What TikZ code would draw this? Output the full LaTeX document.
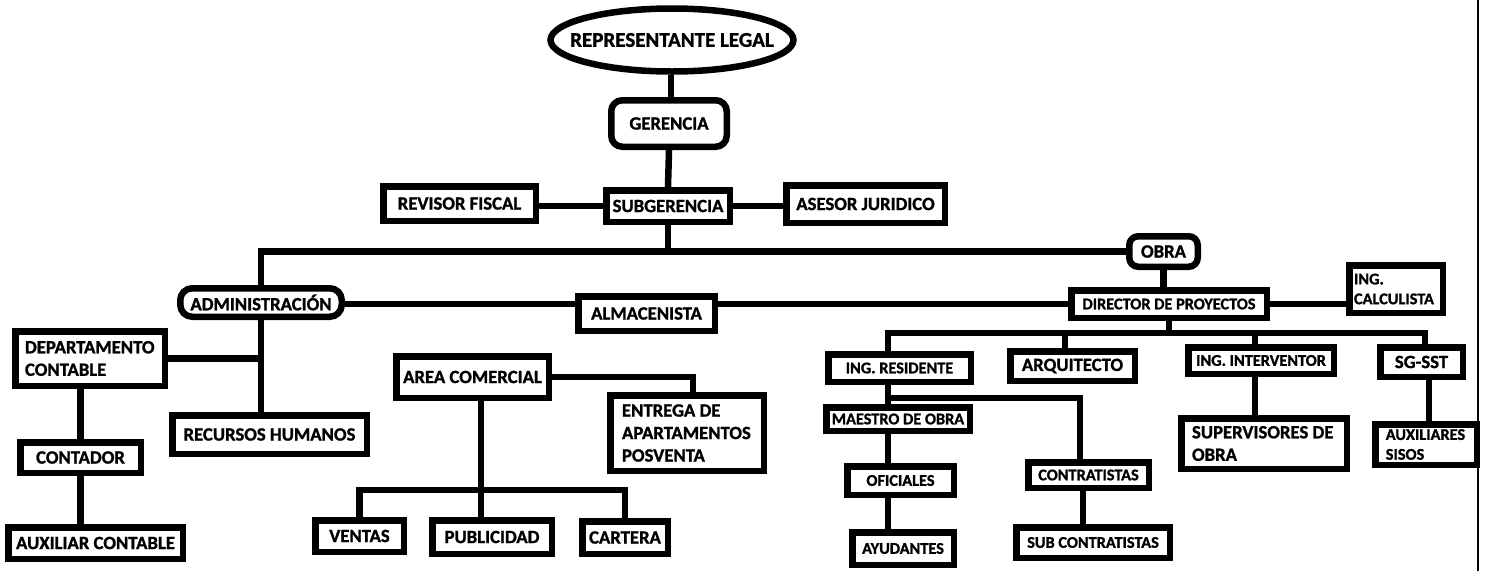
\documentclass[tikz,border=0pt]{standalone}
\usepackage{fontspec}
\setmainfont{Carlito}[BoldFeatures={FakeBold=1.2}]
\usetikzlibrary{shapes.geometric}
\newcommand\fA{\fontsize{18.7}{22.5}\selectfont\bfseries}
\newcommand\fB{\fontsize{16.3}{19.8}\selectfont\bfseries}
\newcommand\fC{\fontsize{21}{25}\selectfont\bfseries}
\begin{document}
\begin{tikzpicture}[x=1pt,y=-1pt,
  lw/.style={line width=6.5pt},
  bx/.style={draw, lw, inner sep=0pt, font=\fA, align=center},
  sbx/.style={bx, font=\fB},
  rbx/.style={bx, rounded corners=11pt},
  ell/.style={draw, ellipse, line width=6.5pt, inner sep=0pt, font=\fC},
  link/.style={lw}]
\useasboundingbox (0,0) rectangle (1486,571);
\fill[white] (0,0) rectangle (1486,571);
% top
\node[ell, minimum width=243pt, minimum height=63pt] (rep) at (672,40) {\makebox[0pt]{REPRESENTANTE LEGAL}};
\node[rbx, minimum width=115.5pt, minimum height=46.5pt] (ger) at (669,123.5) {GERENCIA};
\node[bx, minimum width=123.5pt, minimum height=31.5pt] (sub) at (668,206) {SUBGERENCIA};
\node[bx, minimum width=152.5pt, minimum height=34.5pt] (rev) at (459.5,203.5) {REVISOR FISCAL};
\node[bx, minimum width=158.5pt, minimum height=37.5pt] (ase) at (865.5,204) {ASESOR JURIDICO};
\node[bx, rounded corners=9pt, minimum width=68.5pt, minimum height=30.5pt] (obra) at (1163.5,251.5) {OBRA};
\node[bx, rounded corners=12pt, minimum width=161.5pt, minimum height=28.5pt] (adm) at (261,302.5) {ADMINISTRACIÓN};
\node[bx, minimum width=136.5pt, minimum height=34.5pt] (alm) at (646.5,313.5) {ALMACENISTA};
\node[sbx, minimum width=195.5pt, minimum height=27.5pt] (dir) at (1169,304) {DIRECTOR DE PROYECTOS};
\node[sbx, align=flush left, text width=84pt, inner xsep=4.75pt, minimum height=47.5pt] (calc) at (1396,289) {ING.\\CALCULISTA};
% obra branch
\node[sbx, minimum width=142.5pt, minimum height=27.5pt] (ires) at (899.5,368) {ING. RESIDENTE};
\node[bx, minimum width=124.5pt, minimum height=29.5pt] (arq) at (1072.5,366) {ARQUITECTO};
\node[sbx, minimum width=145.5pt, minimum height=26.5pt] (iint) at (1261,360.5) {ING. INTERVENTOR};
\node[bx, minimum width=82.5pt, minimum height=29.5pt] (sgsst) at (1421.5,362) {SG-SST};
\node[bx, align=flush left, text width=144pt, inner xsep=10.75pt, minimum height=50.5pt] (sup) at (1264,443.5) {SUPERVISORES DE\\OBRA};
\node[sbx, align=flush left, text width=80.5pt, inner xsep=10.5pt, minimum height=40.5pt] (aux) at (1426,444.5) {AUXILIARES\\SISOS};
\node[sbx, minimum width=143.5pt, minimum height=23.5pt] (mae) at (898,419) {MAESTRO DE OBRA};
\node[sbx, minimum width=106.5pt, minimum height=28.5pt] (ofi) at (900.5,480.5) {OFICIALES};
\node[sbx, minimum width=101.5pt, minimum height=32.5pt] (ayu) at (903,548.5) {AYUDANTES};
\node[sbx, minimum width=120.5pt, minimum height=25.5pt] (con) at (1088.5,475) {CONTRATISTAS};
\node[sbx, minimum width=153.5pt, minimum height=30.5pt] (scon) at (1093,542.5) {SUB CONTRATISTAS};
% administration branch
\node[bx, align=flush left, text width=130pt, inner xsep=9.75pt, minimum height=54.5pt] (dep) at (90,358.5) {DEPARTAMENTO\\CONTABLE};
\node[bx, minimum width=194.5pt, minimum height=38.5pt] (rrhh) at (269.5,434.5) {RECURSOS HUMANOS};
\node[bx, minimum width=120.5pt, minimum height=30.5pt] (cont) at (80.5,457.5) {CONTADOR};
\node[bx, minimum width=174.5pt, minimum height=31.5pt] (auxc) at (95.5,543) {AUXILIAR CONTABLE};
\node[bx, minimum width=152.5pt, minimum height=41.5pt] (area) at (472.5,377) {AREA COMERCIAL};
\node[bx, align=flush left, text width=130pt, inner xsep=11.75pt, minimum height=75.5pt] (ent) at (687,433) {ENTREGA DE\\APARTAMENTOS\\POSVENTA};
\node[bx, minimum width=88.5pt, minimum height=31.5pt] (ven) at (359.5,536) {VENTAS};
\node[bx, minimum width=119.5pt, minimum height=33.5pt] (pub) at (492,537) {PUBLICIDAD};
\node[bx, minimum width=85.5pt, minimum height=32.5pt] (car) at (625,537.5) {CARTERA};
% coordinates
\coordinate (rx) at (671,0);
\coordinate (bL) at (888,333);
\coordinate (bR) at (1425,333);
\coordinate (m1) at (888,398);
\coordinate (m2) at (1080,398);
\coordinate (cx) at (1083,0);
\coordinate (ix) at (1255,0);
\coordinate (sx) at (1429,0);
\coordinate (ax) at (1065,0);
\coordinate (ex) at (693,0);
\coordinate (cb) at (481,490);
\coordinate (rb) at (1478,0);
\coordinate (rbb) at (1478,571);
% connectors
\draw[link] (rep.south -| rx) -- (ger.north -| rx);
\draw[link] (ger.south) -- (sub.north);
\draw[link] (rev.east |- sub.west) -- (sub.west);
\draw[link] (sub.east) -- (ase.west |- sub.east);
\draw[link] (sub.south) -- (sub.south |- obra.west);
\draw[link] (adm.north) |- (obra.west);
\draw[link] (adm.east |- dir.west) -- (alm.west |- dir.west);
\draw[link] (alm.east |- dir.west) -- (dir.west);
\draw[link] (obra.south) -- (obra.south |- dir.north);
\draw[link] (dir.east) -- (calc.west |- dir.east);
\draw[link] (dir.south) -- (dir.south |- bL);
\draw[link] (ires.north -| bL) -- (bL) -- (bR) -- (sgsst.north -| bR);
\draw[link] (arq.north -| ax) -- (ax |- bL);
\draw[link] (iint.north -| ix) -- (ix |- bL);
\draw[link] (iint.south -| ix) -- (sup.north -| ix);
\draw[link] (sgsst.south -| sx) -- (aux.north -| sx);
\draw[link] (ires.south -| m1) -- (mae.north -| m1);
\draw[link] (m1) -- (m2) -- (con.north -| m2);
\draw[link] (mae.south -| m1) -- (ofi.north -| m1);
\draw[link] (ofi.south -| m1) -- (ayu.north -| m1);
\draw[link] (con.south -| cx) -- (scon.north -| cx);
\draw[link] (adm.south) -- (adm.south |- rrhh.north);
\draw[link] (dep.east) -- (dep.east -| adm.south);
\draw[link] (dep.south -| cont.north) -- (cont.north);
\draw[link] (cont.south) -- (cont.south |- auxc.north);
\draw[link] (area.east) -| (ex |- ent.north);
\draw[link] (area.south -| cb) -- (pub.north -| cb);
\draw[link] (ven.north) |- (cb) -| (car.north);
\draw[line width=2.5pt] (rb) -- (rbb);
\end{tikzpicture}
\end{document}
